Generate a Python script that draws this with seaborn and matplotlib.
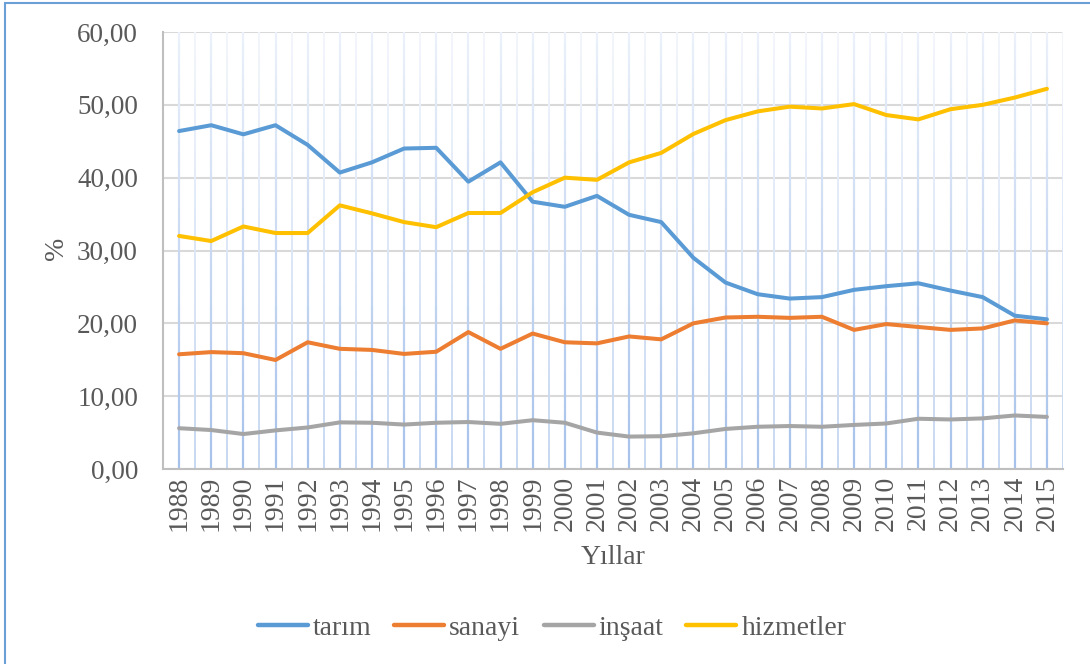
import numpy as np
import pandas as pd
import matplotlib
matplotlib.use("Agg")
import matplotlib.pyplot as plt
import seaborn as sns
from matplotlib.collections import LineCollection
from matplotlib.colors import to_rgb
from matplotlib.patches import Rectangle

years = list(range(1988, 2016))

tarim = [46.4, 47.2, 45.95, 47.2, 44.5, 40.7, 42.1, 44.0, 44.1, 39.45,
         42.1, 36.7, 36.0, 37.5, 34.9, 33.9, 29.0, 25.6, 24.0, 23.4,
         23.6, 24.6, 25.1, 25.5, 24.5, 23.6, 21.05, 20.55]
sanayi = [15.75, 16.05, 15.9, 14.97, 17.4, 16.5, 16.35, 15.8, 16.1, 18.8,
          16.5, 18.6, 17.4, 17.25, 18.2, 17.8, 20.0, 20.8, 20.9, 20.75,
          20.9, 19.1, 19.9, 19.5, 19.1, 19.3, 20.4, 20.0]
insaat = [5.6, 5.35, 4.8, 5.3, 5.7, 6.4, 6.35, 6.1, 6.35, 6.45,
          6.2, 6.7, 6.35, 5.0, 4.45, 4.5, 4.9, 5.5, 5.8, 5.9,
          5.8, 6.05, 6.25, 6.9, 6.8, 6.95, 7.35, 7.15]
hizmetler = [32.0, 31.3, 33.3, 32.4, 32.4, 36.2, 35.1, 33.9, 33.2, 35.15,
             35.15, 38.0, 40.0, 39.7, 42.1, 43.4, 46.0, 47.9, 49.1, 49.75,
             49.5, 50.1, 48.6, 48.0, 49.4, 50.0, 51.0, 52.2]

series_names = ["tarım", "sanayi", "inşaat", "hizmetler"]
colors = ["#5b9bd5", "#ed7d31", "#a5a5a5", "#ffc000"]
y_ticks = [0, 10, 20, 30, 40, 50, 60]

df = pd.DataFrame({
    "Yıl": years * 4,
    "değer": tarim + sanayi + insaat + hizmetler,
    "seri": sum([[n] * len(years) for n in series_names], []),
})

sns.set_style("white")
plt.rcParams["font.family"] = ["Liberation Serif", "DejaVu Serif"]
txt_color = "#595959"
fs = 20

fig = plt.figure(figsize=(10.9, 6.64), dpi=100)
ax = fig.add_axes([163 / 1090, 1 - 469 / 664, 900 / 1090, 437 / 664])

# outer chart frame
fig.patches.append(Rectangle((5 / 1090, -0.05), 1.2, 1 - 3 / 664 + 0.05,
                             transform=fig.transFigure, fill=False,
                             edgecolor="#6a9fd8", linewidth=1.5))

# horizontal grid
for v in y_ticks:
    ax.axhline(v, color="#d9d9d9", linewidth=1.5, zorder=1)


# vertical grid with a faded (gradient) look
def grad_lines(xs, bottom, top, lw):
    ys = np.linspace(0, 60, 41)
    b, t = np.array(to_rgb(bottom)), np.array(to_rgb(top))
    segs, cols = [], []
    for x in xs:
        for i in range(len(ys) - 1):
            segs.append([(x, ys[i]), (x, ys[i + 1])])
            f = (ys[i] + ys[i + 1]) / 2 / 60
            cols.append(b + (t - b) * f)
    ax.add_collection(LineCollection(segs, colors=cols, linewidths=lw, zorder=1))


grad_lines(years, "#a6c1ea", "#ecf1fa", 1.6)
grad_lines([y + 0.5 for y in years] + [years[0] - 0.5], "#c5d7f1", "#f3f6fb", 1.4)

sns.lineplot(data=df, x="Yıl", y="değer", hue="seri", hue_order=series_names,
             palette=colors, linewidth=2.9, ax=ax, zorder=3, legend=False)

ax.set_xlim(years[0] - 0.5, years[-1] + 0.5)
ax.set_ylim(0, 60)
ax.set_xticks(years)
ax.set_xticklabels([str(y) for y in years], rotation=90)
ax.set_yticks(y_ticks)
ax.set_yticklabels([f"{v:.2f}".replace(".", ",") for v in y_ticks])
ax.tick_params(axis="both", length=0, labelsize=fs, labelcolor=txt_color)
ax.tick_params(axis="y", labelsize=19.5)
ax.tick_params(axis="x", pad=5)
ax.tick_params(axis="y", pad=18)

for s in ["top", "right"]:
    ax.spines[s].set_visible(False)
for s in ["left", "bottom"]:
    ax.spines[s].set_color("#bfbfbf")
    ax.spines[s].set_linewidth(1.5)
    ax.spines[s].set_zorder(2)

ax.set_xlabel("Yıllar", fontsize=fs, color=txt_color)
ax.xaxis.label.set_va("center")
ax.xaxis.set_label_coords(0.5, (469 - 557) / 437)
ax.set_ylabel("%", fontsize=fs, color=txt_color)
ax.yaxis.label.set_va("center")
ax.yaxis.set_label_coords((57 - 163) / 900, 0.505)

handles = [plt.Line2D([], [], color=c, linewidth=3.2, solid_capstyle="round")
           for c in colors]
fig.legend(handles, series_names, loc="center", ncol=4,
           bbox_to_anchor=(552 / 1090, 1 - 628 / 664), frameon=False,
           fontsize=fs, labelcolor=txt_color, handlelength=1.8,
           handletextpad=0.18, columnspacing=0.83)

fig.savefig("out.png", dpi=100)
